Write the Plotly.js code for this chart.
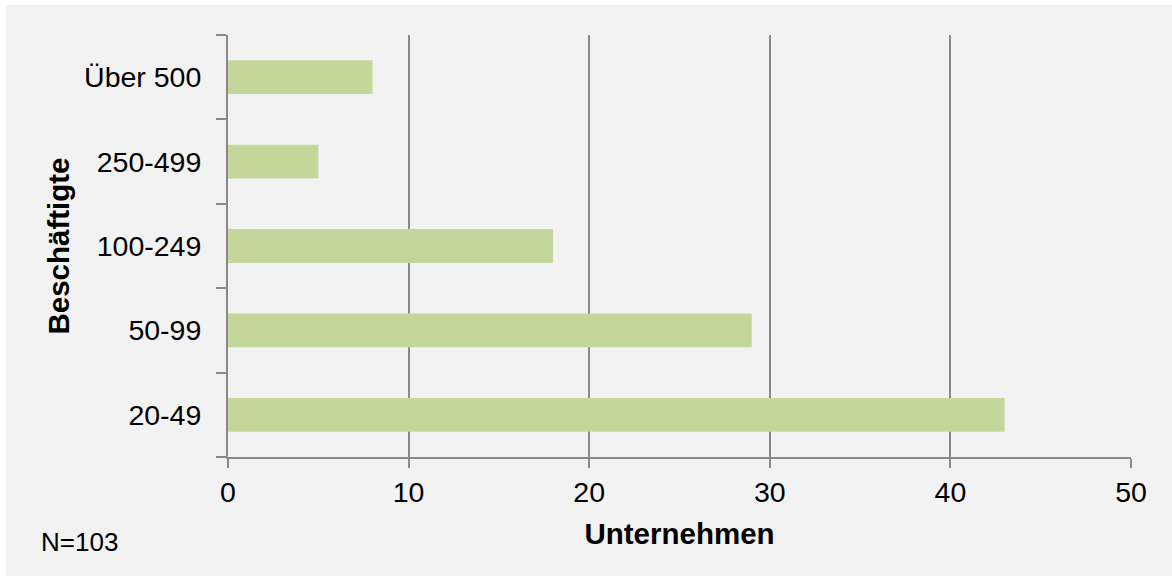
<!DOCTYPE html>
<html>
<head>
<meta charset="utf-8">
<script src="https://cdn.plot.ly/plotly-3.0.1.min.js"></script>
<style>
html,body{margin:0;padding:0;background:#ffffff;}
#chart{position:absolute;left:6px;top:5px;width:1166px;height:571px;}
</style>
</head>
<body>
<div id="chart"></div>
<script>
const categories = ['20-49', '50-99', '100-249', '250-499', 'Über 500'];
const companies = [43, 29, 18, 5, 8];
const xTickValues = [0, 10, 20, 30, 40, 50];
const xTitle = 'Unternehmen';
const yTitle = 'Beschäftigte';
const note = 'N=103';

const axisColor = '#898989';
const family = 'Liberation Sans, Arial, sans-serif';
const font = {family: family, size: 28.5, color: '#000000'};
const titleFont = {family: family, size: 29.5, color: '#000000'};

const trace = {
  type: 'bar',
  orientation: 'h',
  x: companies,
  y: categories,
  marker: {color: '#c4d79b', line: {width: 0}},
  hoverinfo: 'x+y'
};

const layout = {
  width: 1166,
  height: 571,
  paper_bgcolor: '#f2f2f2',
  plot_bgcolor: '#f2f2f2',
  margin: {l: 222, r: 41, t: 30, b: 119, autoexpand: false},
  font: font,
  bargap: 0.6,
  showlegend: false,
  xaxis: {
    range: [0, 50],
    tickvals: xTickValues,
    ticktext: xTickValues.map(String),
    showgrid: true,
    gridcolor: axisColor,
    gridwidth: 2,
    zeroline: false,
    showline: true,
    linecolor: axisColor,
    linewidth: 2,
    ticks: 'outside',
    ticklen: 9,
    tickwidth: 2,
    tickcolor: axisColor,
    tickfont: font,
    title: {text: '<b>' + xTitle + '</b>', font: titleFont, standoff: 16}
  },
  yaxis: {
    type: 'category',
    categoryorder: 'array',
    categoryarray: categories,
    range: [-0.5, 4.5],
    tickson: 'boundaries',
    showgrid: false,
    zeroline: false,
    showline: true,
    linecolor: axisColor,
    linewidth: 2,
    ticks: 'outside',
    ticklen: 10,
    tickwidth: 2,
    tickcolor: axisColor,
    tickfont: font,
    ticklabelstandoff: 19,
    title: {text: '<b>' + yTitle + '</b>', font: titleFont, standoff: 6}
  },
  annotations: [{
    text: note,
    xref: 'paper', yref: 'paper',
    x: -222/903, y: -85/422,
    xanchor: 'left', yanchor: 'middle',
    xshift: 33,
    showarrow: false,
    font: {family: family, size: 26, color: '#000000'}
  }]
};

Plotly.newPlot('chart', [trace], layout, {displayModeBar: false, staticPlot: true});
</script>
</body>
</html>
